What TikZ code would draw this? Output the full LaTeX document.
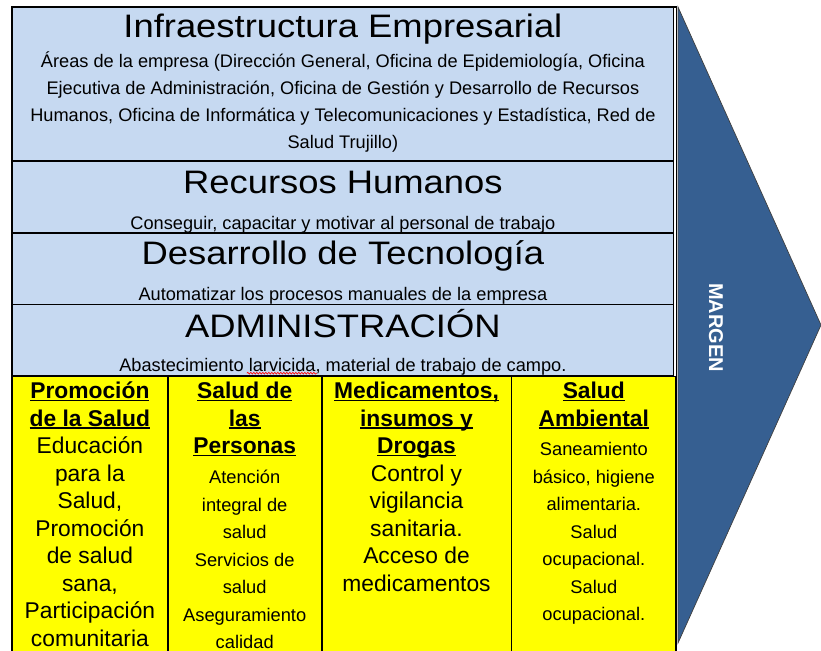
\documentclass[tikz,border=0pt]{standalone}
\usepackage{fontspec}
\setmainfont{Liberation Sans}
\newfontfamily\titlefont[FakeStretch=1.12]{Liberation Sans}
\usetikzlibrary{positioning,decorations.pathmorphing}

\definecolor{bandblue}{RGB}{198,217,241}
\definecolor{margenblue}{RGB}{54,95,145}
\definecolor{celyellow}{RGB}{255,255,0}

\newcommand{\colhead}[1]{\leavevmode\setbox0\hbox{\textbf{#1}}\rlap{\rule[-2.6pt]{\wd0}{1.4pt}}\box0}
\newcommand{\colsmall}{\fontsize{18.3}{27.5}\selectfont}

\begin{document}
\begin{tikzpicture}[x=1pt,y=-1pt,
    band/.style={draw=black, fill=bandblue, line width=0.8pt, minimum width=661pt, inner sep=0pt, anchor=north west},
    cell/.style={draw=black, fill=celyellow, line width=0.8pt, minimum height=285pt, inner sep=0pt, anchor=north west},
    bandtitle/.style={anchor=base, inner sep=0pt, font=\titlefont\fontsize{32.5}{38}\selectfont},
    bandtext/.style={anchor=base, inner sep=0pt, align=flush center, text width=661pt, font=\fontsize{18.2}{26.7}\selectfont},
    celltext/.style={anchor=base, inner sep=0pt, align=flush center, text width=#1, font=\fontsize{22.8}{27.5}\selectfont}]
\clip (0,0) rectangle (821,650);

% support activities
\node[band, minimum height=153pt] (infra) at (12,7) {};
\node[band, minimum height=71pt] (rrhh) at (infra.south west) {};
\node[band, minimum height=71pt] (tecno) at (rrhh.south west) {};
\node[band, minimum height=71pt] (admin) at (tecno.south west) {};

% primary activities
\node[cell, minimum width=155pt] (promo) at (admin.south west) {};
\node[cell, minimum width=153pt] (personas) at (promo.north east) {};
\node[cell, minimum width=189pt] (medic) at (personas.north east) {};
\node[cell, minimum width=164pt] (ambiental) at (medic.north east) {};
\draw[line width=1.4pt] (infra.north west) rectangle (ambiental.south east);

\node[bandtitle] (infratitle) at ([yshift=-31pt]infra.north) {Infraestructura Empresarial};
\node[bandtext] (infratext) at ([yshift=-61pt]infra.north) {Áreas de la empresa (Dirección General, Oficina de Epidemiología, Oficina\\ Ejecutiva de Administración, Oficina de Gestión y Desarrollo de Recursos\\ Humanos, Oficina de Informática y Telecomunicaciones y Estadística, Red de\\ Salud Trujillo)};
\node[bandtitle] (rrhhtitle) at ([yshift=-33pt]rrhh.north) {Recursos Humanos};
\node[bandtext] (rrhhtext) at ([yshift=3pt]rrhh.south) {Conseguir, capacitar y motivar al personal de trabajo};
\node[bandtitle] (tecnotitle) at ([yshift=-32pt]tecno.north) {Desarrollo de Tecnología};
\node[bandtext] (tecnotext) at ([yshift=4pt]tecno.south) {Automatizar los procesos manuales de la empresa};
\node[bandtitle] (admintitle) at ([yshift=-33pt]admin.north) {ADMINISTRACIÓN};
\node[bandtext] (admintext) at ([yshift=5pt]admin.south) {Abastecimiento larvicida, material de trabajo de campo.};
% spell-check mark under "larvicida"
\draw[red, line width=0.6pt, decorate, decoration={snake, amplitude=0.9pt, segment length=3pt}] ([xshift=-96pt, yshift=-2pt]admintext.base) -- ([xshift=-26pt, yshift=-2pt]admintext.base);

\node[celltext=150pt] (promotext) at ([yshift=-22.5pt]promo.north) {\colhead{Promoción}\\ \colhead{de la Salud}\\ Educación\\ para la\\ Salud,\\ Promoción\\ de salud\\ sana,\\ Participación\\ comunitaria};
\node[celltext=148pt] (personastext) at ([yshift=-22.5pt]personas.north) {\colhead{Salud de}\\ \colhead{las}\\ \colhead{Personas}\\[2.5pt] \colsmall Atención\\ integral de\\ salud\\ Servicios de\\ salud\\ Aseguramiento\\ calidad};
\node[celltext=184pt] (medictext) at ([yshift=-22.5pt]medic.north) {\colhead{Medicamentos,}\\ \colhead{insumos y}\\ \colhead{Drogas}\\ Control y\\ vigilancia\\ sanitaria.\\ Acceso de\\ medicamentos};
\node[celltext=159pt] (ambientaltext) at ([yshift=-22.5pt]ambiental.north) {\colhead{Salud}\\ \colhead{Ambiental}\\[2pt] \colsmall Saneamiento\\ básico, higiene\\ alimentaria.\\ Salud\\ ocupacional.\\ Salud\\ ocupacional.};

% margin arrow
\coordinate (arrtop) at (678,7);
\coordinate (arrtip) at (821,325);
\coordinate (arrbot) at (678,643);
\draw[fill=margenblue, draw=black!75, line width=0.7pt] (arrtop) -- (arrtip) -- (arrbot) -- cycle;
\node[font=\bfseries\fontsize{20}{24}\selectfont, text=white, rotate=-90] (margen) at (716,327.5) {MARGEN};
\end{tikzpicture}
\end{document}
